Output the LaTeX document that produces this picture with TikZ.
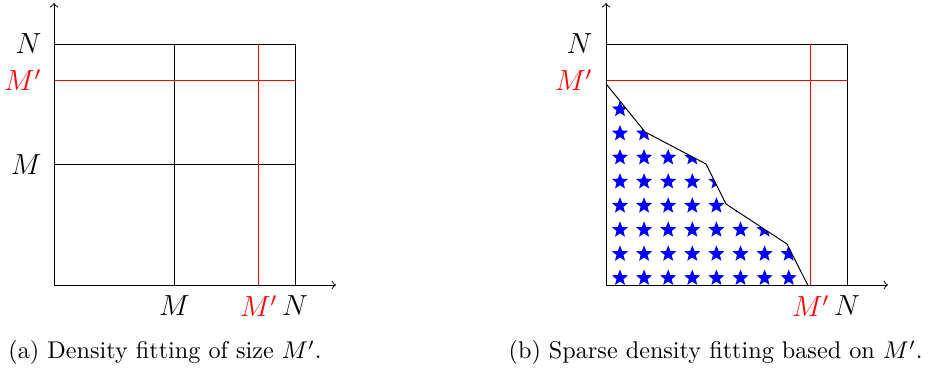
\documentclass[tikz,border=0pt]{standalone}
\usetikzlibrary{shapes.geometric}
\begin{document}
\begin{tikzpicture}[x=0.35cm,y=0.35cm,
  axisline/.style={->},
  redline/.style={red},
  lab/.style={font=\large, inner sep=0pt},
  captext/.style={font=\normalsize, inner sep=0pt, anchor=base west},
  starmark/.style={star, star points=5, star point ratio=2.3, fill=blue, draw=none, minimum size=7pt, inner sep=0pt}]
\useasboundingbox (-2.241,-3.693) rectangle (36.266,11.826);

% ---------- panel (a) ----------
\begin{scope}
  \draw (0,0) rectangle (10,10);
  \draw (5,0) -- (5,10);
  \draw (0,5) -- (10,5);
  \draw[redline] (8.5,0) -- (8.5,10);
  \draw[redline] (0,8.5) -- (10,8.5);
  \draw[axisline] (0,0) -- (11.7,0);
  \draw[axisline] (0,0) -- (0,11.7);
  \node[lab, anchor=east] (aN) at (-0.5,10) {$N$};
  \node[lab, anchor=east, text=red] (aMp) at (-0.5,8.5) {$M'$};
  \node[lab, anchor=east] (aM) at (-0.5,5) {$M$};
  \node[lab, anchor=north] (bM) at (5,-0.42) {$M$};
  \node[lab, anchor=north, text=red] (bMp) at (8.5,-0.42) {$M'$};
  \node[lab, anchor=north] (bN) at (10,-0.42) {$N$};
  \node[captext] (capa) at (-1.91,-3.07) {(a) Density fitting of size $M'$.};
\end{scope}

% ---------- panel (b) ----------
\begin{scope}[shift={(22.905,0)}]
  \begin{scope}
    \clip (0,0) -- (0,8.35) -- (1.62,6.35) -- (4.15,5.02) -- (4.98,3.36) -- (7.51,1.70) -- (8.37,0) -- cycle;
    \foreach \i in {0,...,7}
      \foreach \j in {0,...,7}
        \node[starmark] (s\i\j) at (0.58+\i,0.29+\j) {};
  \end{scope}
  \draw (0,8.35) -- (1.62,6.35) -- (4.15,5.02) -- (4.98,3.36) -- (7.51,1.70) -- (8.37,0);
  \draw (0,0) rectangle (10,10);
  \draw[redline] (8.5,0) -- (8.5,10);
  \draw[redline] (0,8.5) -- (10,8.5);
  \draw[axisline] (0,0) -- (11.7,0);
  \draw[axisline] (0,0) -- (0,11.7);
  \node[lab, anchor=east] (rN) at (-0.54,10) {$N$};
  \node[lab, anchor=east, text=red] (rMp) at (-0.54,8.5) {$M'$};
  \node[lab, anchor=north, text=red] (rbMp) at (8.5,-0.42) {$M'$};
  \node[lab, anchor=north] (rbN) at (10,-0.42) {$N$};
  \node[captext] (capb) at (-4.06,-3.07) {(b) Sparse density fitting based on $M'$.};
\end{scope}
\end{tikzpicture}
\end{document}
